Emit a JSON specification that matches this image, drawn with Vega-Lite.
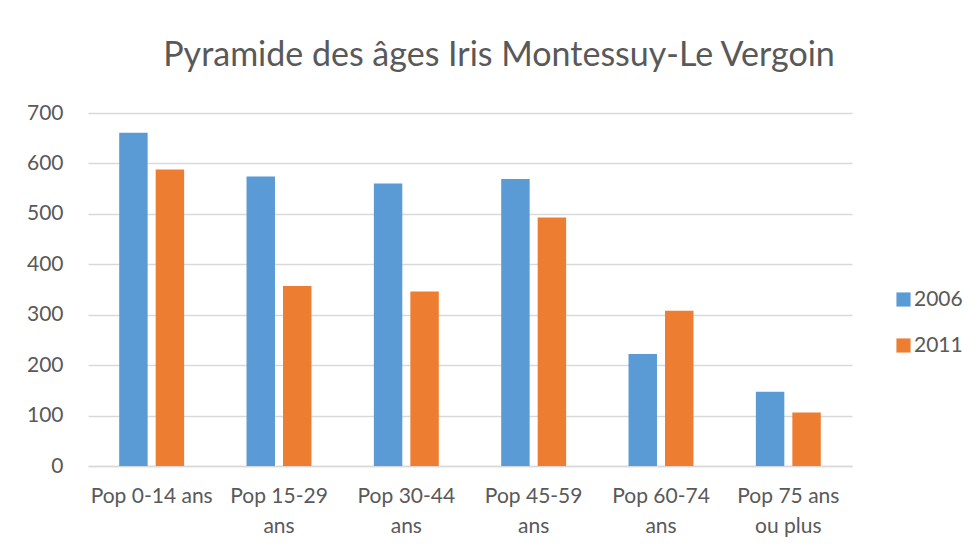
{
  "$schema": "https://vega.github.io/schema/vega-lite/v6.json",
  "width": 764,
  "height": 353,
  "autosize": {"type": "none"},
  "padding": {"left": 88, "top": 113, "right": 123, "bottom": 81},
  "background": "white",
  "title": {
    "text": "Pyramide des âges Iris Montessuy-Le Vergoin",
    "font": "Lato",
    "fontSize": 34,
    "fontWeight": "normal",
    "color": "#595959",
    "anchor": "middle",
    "frame": "group",
    "dx": 29,
    "baseline": "alphabetic",
    "offset": 2
  },
  "data": {
    "values": [
      {"age": "Pop 0-14 ans", "year": "2006", "pop": 661},
      {"age": "Pop 0-14 ans", "year": "2011", "pop": 588},
      {"age": "Pop 15-29 ans", "year": "2006", "pop": 574},
      {"age": "Pop 15-29 ans", "year": "2011", "pop": 357},
      {"age": "Pop 30-44 ans", "year": "2006", "pop": 560},
      {"age": "Pop 30-44 ans", "year": "2011", "pop": 346},
      {"age": "Pop 45-59 ans", "year": "2006", "pop": 569},
      {"age": "Pop 45-59 ans", "year": "2011", "pop": 493},
      {"age": "Pop 60-74 ans", "year": "2006", "pop": 222},
      {"age": "Pop 60-74 ans", "year": "2011", "pop": 308},
      {"age": "Pop 75 ans ou plus", "year": "2006", "pop": 147},
      {"age": "Pop 75 ans ou plus", "year": "2011", "pop": 106}
    ]
  },
  "mark": {"type": "bar"},
  "encoding": {
    "x": {
      "field": "age",
      "type": "nominal",
      "sort": null,
      "title": null,
      "scale": {"paddingInner": 0.49, "paddingOuter": 0.245},
      "axis": {
        "labelAngle": 0,
        "labelFont": "Lato",
        "labelFontSize": 21,
        "labelColor": "#595959",
        "labelPadding": 19,
        "labelLineHeight": 30,
        "ticks": false,
        "domainColor": "#d9d9d9",
        "domainWidth": 1.5,
        "labelExpr": "datum.label == 'Pop 0-14 ans' ? datum.label : (datum.label == 'Pop 75 ans ou plus' ? ['Pop 75 ans', 'ou plus'] : [slice(datum.label, 0, 9), 'ans'])"
      }
    },
    "xOffset": {
      "field": "year",
      "type": "nominal",
      "scale": {"paddingInner": 0.22, "paddingOuter": 0}
    },
    "y": {
      "field": "pop",
      "type": "quantitative",
      "title": null,
      "scale": {"domain": [0, 700], "nice": false},
      "axis": {
        "values": [0, 100, 200, 300, 400, 500, 600, 700],
        "labelFont": "Lato",
        "labelFontSize": 21,
        "labelColor": "#595959",
        "labelPadding": 25,
        "ticks": false,
        "domain": false,
        "gridColor": "#d9d9d9",
        "gridWidth": 1.5
      }
    },
    "color": {
      "field": "year",
      "type": "nominal",
      "scale": {"domain": ["2006", "2011"], "range": ["#5B9BD5", "#ED7D31"]},
      "legend": {
        "title": null,
        "orient": "none",
        "legendX": 805,
        "legendY": 176,
        "symbolType": "square",
        "symbolSize": 200,
        "symbolStrokeWidth": 0,
        "labelFont": "Lato",
        "labelFontSize": 21,
        "labelColor": "#595959",
        "rowPadding": 24,
        "labelOffset": 0
      }
    }
  },
  "config": {"view": {"stroke": null}}
}
